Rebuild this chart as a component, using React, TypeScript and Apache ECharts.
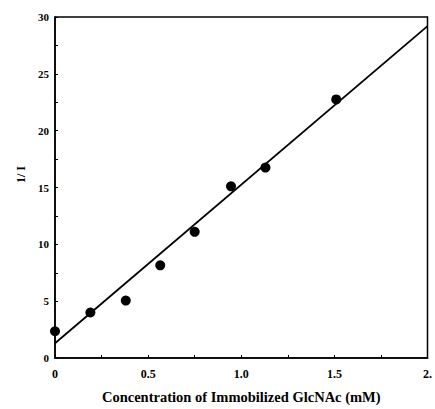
import React, { useEffect, useRef } from "react";
import * as echarts from "echarts";

const pointX = [0, 0.19, 0.38, 0.565, 0.75, 0.945, 1.13, 1.51];
const pointY = [2.35, 4.0, 5.05, 8.15, 11.1, 15.1, 16.75, 22.75];
const lineX = [0, 2];
const lineY = [1.3, 29.2];
const xTickLabels: Record<string, string> = { "0": "0", "0.5": "0.5", "1": "1.0", "1.5": "1.5", "2": "2." };
const yTickValues = [0, 5, 10, 15, 20, 25, 30];
const xName = "Concentration of Immobilized GlcNAc (mM)";
const yName = "1/ I";

export default function App() {
  const ref = useRef<HTMLDivElement>(null);
  useEffect(() => {
    if (!ref.current) return;
    const chart = echarts.init(ref.current, null, { renderer: "svg" });
    const font = "'Liberation Serif', 'Times New Roman', serif";
    chart.setOption({
      animation: false,
      backgroundColor: "#fff",
      grid: {
        left: 55,
        right: 5,
        top: 17,
        bottom: 47,
        show: true,
        borderColor: "#000",
        borderWidth: 1.5,
        backgroundColor: "transparent",
      },
      xAxis: {
        type: "value",
        min: 0,
        max: 2,
        interval: 0.5,
        name: xName,
        nameLocation: "middle",
        nameGap: 31,
        nameTextStyle: { fontFamily: font, fontWeight: "bold", fontSize: 14.5, color: "#000" },
        axisLine: { show: true, onZero: false, lineStyle: { color: "#000", width: 1.5 } },
        axisTick: { show: true, inside: true, length: 3, lineStyle: { color: "#000" } },
        minorTick: { show: true, splitNumber: 2, length: 3, lineStyle: { color: "#000" } },
        splitLine: { show: false },
        axisLabel: {
          fontFamily: font,
          fontWeight: "bold",
          fontSize: 12,
          color: "#000",
          margin: 10,
          formatter: (v: number) => xTickLabels[String(v)] ?? String(v),
        },
      },
      yAxis: {
        type: "value",
        min: 0,
        max: 30,
        interval: 5,
        name: yName,
        nameLocation: "middle",
        nameGap: 28,
        nameRotate: 90,
        nameTextStyle: {
          fontFamily: font,
          fontWeight: "bold",
          fontSize: 12,
          color: "#000",
          padding: [0, 0, 0, 26],
        },
        axisLine: { show: true, onZero: false, lineStyle: { color: "#000", width: 1.5 } },
        axisTick: { show: true, inside: true, length: 3, lineStyle: { color: "#000" } },
        minorTick: { show: true, splitNumber: 2, length: 3, lineStyle: { color: "#000" } },
        splitLine: { show: false },
        axisLabel: {
          fontFamily: font,
          fontWeight: "bold",
          fontSize: 11,
          color: "#000",
          margin: 6,
          formatter: (v: number) => (yTickValues.includes(v) ? String(v) : ""),
        },
      },
      series: [
        {
          type: "line",
          data: lineX.map((x, i) => [x, lineY[i]]),
          showSymbol: false,
          symbol: "none",
          lineStyle: { color: "#000", width: 1.8 },
          silent: true,
        },
        {
          type: "scatter",
          data: pointX.map((x, i) => [x, pointY[i]]),
          symbol: "circle",
          symbolSize: 10,
          itemStyle: { color: "#000", opacity: 1 },
        },
      ],
    });
    return () => chart.dispose();
  }, []);
  return <div ref={ref} style={{ width: 435, height: 409, position: "absolute", left: 0, top: 0 }} />;
}
